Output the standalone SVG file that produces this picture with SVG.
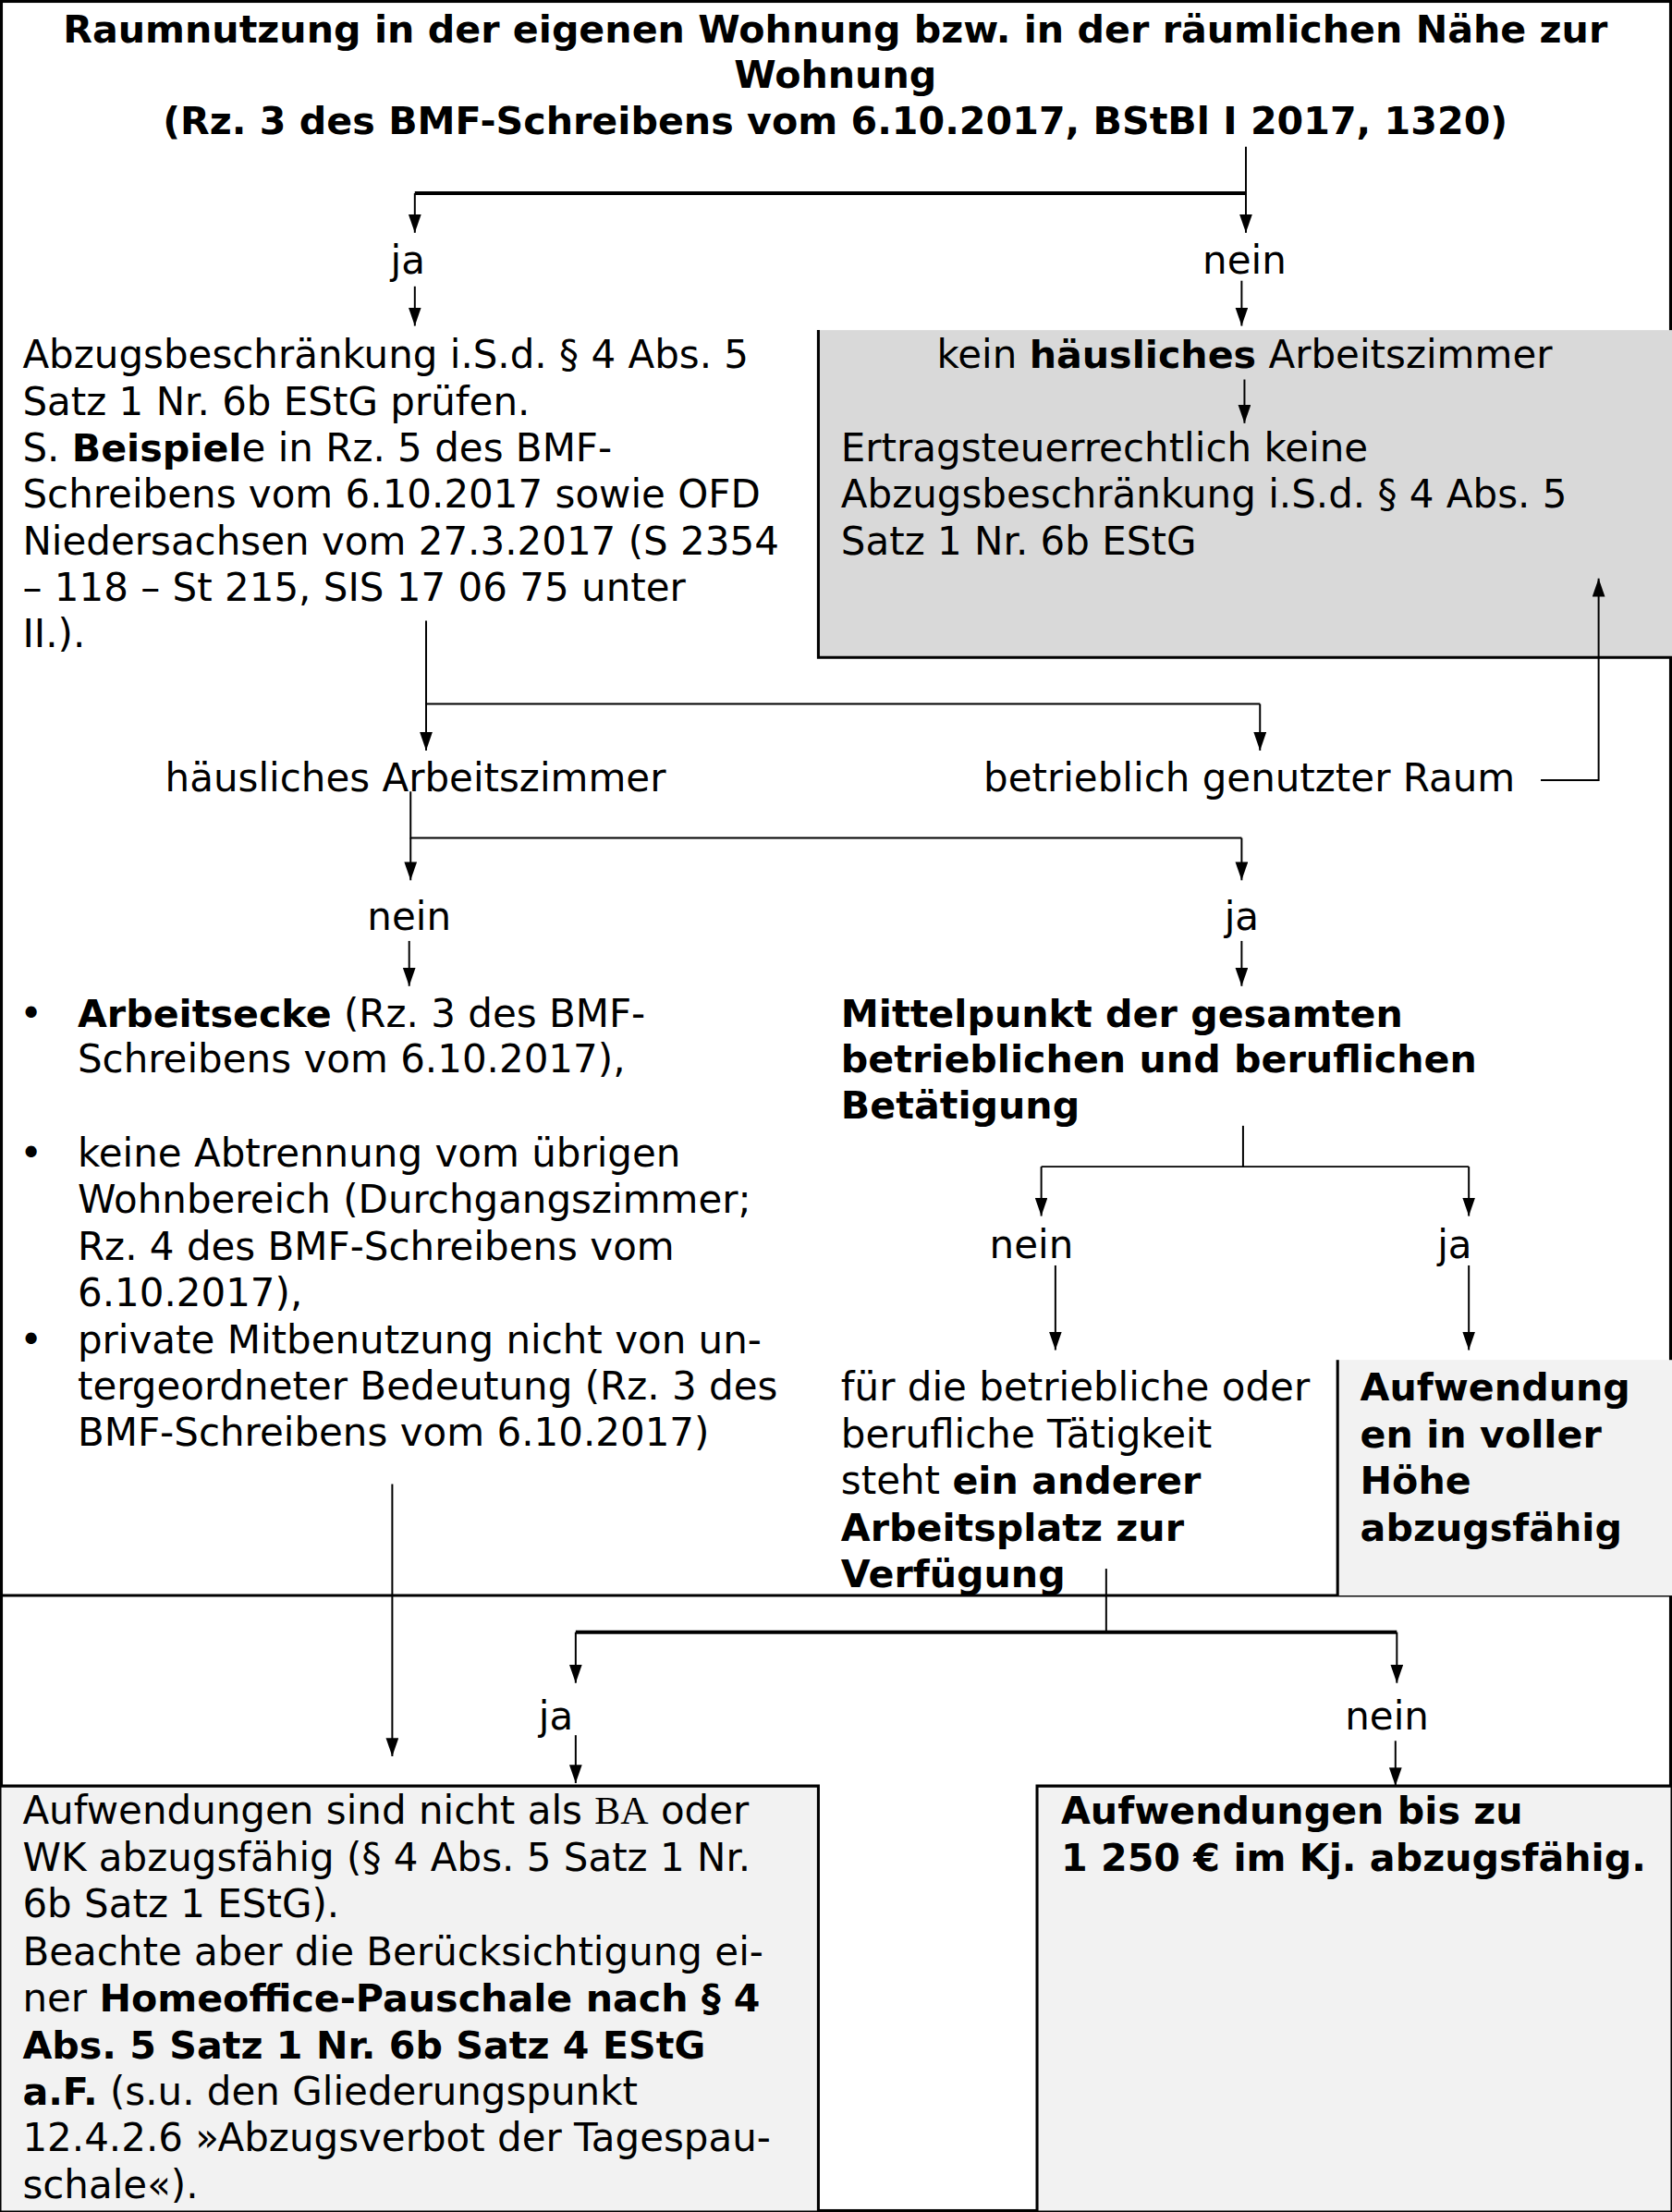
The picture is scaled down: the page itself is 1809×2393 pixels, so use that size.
<svg xmlns="http://www.w3.org/2000/svg" width="1809" height="2393" viewBox="0 0 1809 2393">
<defs>
<style>
text{font-family:"DejaVu Sans",Verdana,"Liberation Sans",sans-serif;font-size:27.5px;fill:#000}
.b{font-weight:bold;font-size:27px}
.m{text-anchor:middle}
.serif{font-family:"Liberation Serif","Times New Roman",serif}
.ln{stroke:#000;stroke-width:1.3;fill:none}
.thick{stroke:#000;stroke-width:2.6;fill:none}
.ar{stroke:#000;stroke-width:1.3;fill:none;marker-end:url(#arr)}
.edge{stroke:#000;stroke-width:2;fill:none}
</style>
<marker id="arr" markerUnits="userSpaceOnUse" markerWidth="14" markerHeight="10" refX="13" refY="4.5" orient="auto">
<path d="M0,0 L13,4.5 L0,9 z" fill="#000"/>
</marker>
</defs>
<rect x="0" y="0" width="1809" height="2393" fill="#fff"/>
<g transform="scale(1.52658 1.52615)">
<g id="frame">
<rect x="1" y="1" width="1183" height="1566" class="edge"/>
<line x1="0" y1="1131" x2="1185" y2="1131" class="edge"/>
</g>

<g id="title">
<text class="b m" x="592" y="30">Raumnutzung in der eigenen Wohnung bzw. in der räumlichen Nähe zur</text>
<text class="b m" x="592" y="62">Wohnung</text>
<text class="b m" x="592" y="95">(Rz. 3 des BMF-Schreibens vom 6.10.2017, BStBl I 2017, 1320)</text>
</g>

<g id="kein-box">
<rect x="580" y="234" width="605" height="232" fill="#d9d9d9"/>
<path d="M580,234 V466 H1185" class="edge"/>
<text class="m" x="882" y="261">kein <tspan class="b">häusliches</tspan> Arbeitszimmer</text>
<text x="596" y="327">Ertragsteuerrechtlich keine</text>
<text x="596" y="360">Abzugsbeschränkung i.S.d. § 4 Abs. 5</text>
<text x="596" y="393">Satz 1 Nr. 6b EStG</text>
</g>

<g id="pruefen">
<text x="16" y="261">Abzugsbeschränkung i.S.d. § 4 Abs. 5</text>
<text x="16" y="294">Satz 1 Nr. 6b EStG prüfen.</text>
<text x="16" y="327">S. <tspan class="b">Beispiel</tspan>e in Rz. 5 des BMF-</text>
<text x="16" y="360">Schreibens vom 6.10.2017 sowie OFD</text>
<text x="16" y="393">Niedersachsen vom 27.3.2017 (S 2354</text>
<text x="16" y="426">– 118 – St 215, SIS 17 06 75 unter</text>
<text x="16" y="459">II.).</text>
</g>

<g id="labels">
<text class="m" x="289" y="194">ja</text>
<text class="m" x="882" y="194">nein</text>
<text x="117" y="561">häusliches Arbeitszimmer</text>
<text x="697" y="561">betrieblich genutzter Raum</text>
<text class="m" x="290" y="659">nein</text>
<text class="m" x="880" y="659">ja</text>
<text class="m" x="731" y="892">nein</text>
<text class="m" x="1031" y="892">ja</text>
<text class="m" x="394" y="1226">ja</text>
<text class="m" x="983" y="1226">nein</text>
</g>

<g id="arbeitsecke">
<text x="14" y="728">•</text>
<text x="55" y="728"><tspan class="b">Arbeitsecke</tspan> (Rz. 3 des BMF-</text>
<text x="55" y="760">Schreibens vom 6.10.2017),</text>
<text x="14" y="827">•</text>
<text x="55" y="827">keine Abtrennung vom übrigen</text>
<text x="55" y="860">Wohnbereich (Durchgangszimmer;</text>
<text x="55" y="893">Rz. 4 des BMF-Schreibens vom</text>
<text x="55" y="926">6.10.2017),</text>
<text x="14" y="959">•</text>
<text x="55" y="959">private Mitbenutzung nicht von un-</text>
<text x="55" y="992">tergeordneter Bedeutung (Rz. 3 des</text>
<text x="55" y="1025">BMF-Schreibens vom 6.10.2017)</text>
</g>

<g id="mittelpunkt">
<text class="b" x="596" y="728">Mittelpunkt der gesamten</text>
<text class="b" x="596" y="760">betrieblichen und beruflichen</text>
<text class="b" x="596" y="793">Betätigung</text>
</g>

<g id="anderer-arbeitsplatz">
<text x="596" y="993">für die betriebliche oder</text>
<text x="596" y="1026">berufliche Tätigkeit</text>
<text x="596" y="1059">steht <tspan class="b">ein anderer</tspan></text>
<text class="b" x="596" y="1092">Arbeitsplatz zur</text>
<text class="b" x="596" y="1125">Verfügung</text>
</g>

<g id="volle-hoehe">
<rect x="948" y="964" width="237" height="167" fill="#f2f2f2"/>
<line x1="948" y1="964" x2="948" y2="1131" class="edge"/>
<text class="b" x="964" y="993">Aufwendung</text>
<text class="b" x="964" y="1026">en in voller</text>
<text class="b" x="964" y="1059">Höhe</text>
<text class="b" x="964" y="1092">abzugsfähig</text>
</g>

<g id="nicht-abzugsfaehig">
<rect x="1" y="1266" width="579" height="301" fill="#f2f2f2"/>
<path d="M0,1266 H580 V1568" class="edge"/>
<text x="16" y="1293">Aufwendungen sind nicht als <tspan class="serif">BA</tspan> oder</text>
<text x="16" y="1326">WK abzugsfähig (§ 4 Abs. 5 Satz 1 Nr.</text>
<text x="16" y="1359">6b Satz 1 EStG).</text>
<text x="16" y="1393">Beachte aber die Berücksichtigung ei-</text>
<text x="16" y="1426">ner <tspan class="b">Homeoffice-Pauschale nach § 4</tspan></text>
<text class="b" x="16" y="1459">Abs. 5 Satz 1 Nr. 6b Satz 4 EStG</text>
<text x="16" y="1492"><tspan class="b">a.F.</tspan> (s.u. den Gliederungspunkt</text>
<text x="16" y="1525">12.4.2.6 »Abzugsverbot der Tagespau-</text>
<text x="16" y="1558">schale«).</text>
</g>

<g id="bis-1250">
<rect x="735" y="1266" width="449" height="301" fill="#f2f2f2"/>
<path d="M735,1568 V1266 H1185" class="edge"/>
<text class="b" x="752" y="1293">Aufwendungen bis zu</text>
<text class="b" x="752" y="1326">1 250 € im Kj. abzugsfähig.</text>
</g>

<g id="connectors">
<path d="M883,104 V165" class="ar"/>
<path d="M294,137 H883" class="thick"/>
<path d="M294,137 V165" class="ar"/>
<path d="M294,203 V231" class="ar"/>
<path d="M880,199 V231" class="ar"/>
<path d="M882,269 V300" class="ar"/>
<path d="M302,440 V499 H893" class="ln"/>
<path d="M302,499 V532" class="ar"/>
<path d="M893,499 V532" class="ar"/>
<path d="M1092,553 H1133 V410" class="ar"/>
<path d="M291,561 V594 H880" class="ln"/>
<path d="M291,594 V624" class="ar"/>
<path d="M880,594 V624" class="ar"/>
<path d="M290,667 V699" class="ar"/>
<path d="M880,667 V699" class="ar"/>
<path d="M881,798 V827" class="ln"/>
<path d="M738,827 H1041" class="ln"/>
<path d="M738,827 V862" class="ar"/>
<path d="M1041,827 V862" class="ar"/>
<path d="M748,897 V957" class="ar"/>
<path d="M1041,897 V957" class="ar"/>
<path d="M278,1052 V1245" class="ar"/>
<path d="M784,1112 V1157" class="ln"/>
<path d="M408,1157 H990" class="thick"/>
<path d="M408,1157 V1193" class="ar"/>
<path d="M990,1157 V1193" class="ar"/>
<path d="M408,1230 V1264" class="ar"/>
<path d="M989,1234 V1266" class="ar"/>
</g>
</g>
</svg>
